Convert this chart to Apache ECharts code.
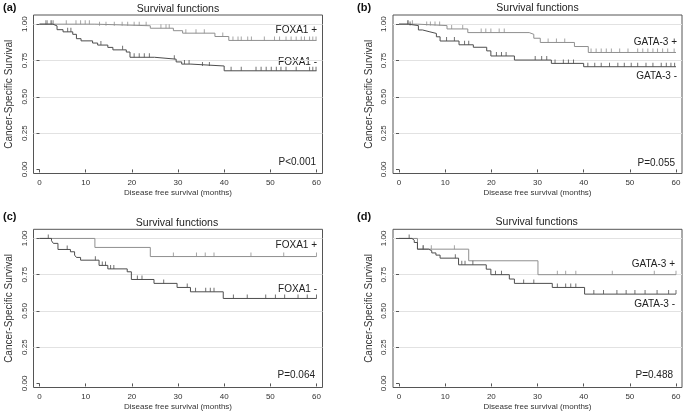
<!DOCTYPE html>
<html><head><meta charset="utf-8">
<script src="https://cdn.jsdelivr.net/npm/echarts@6/dist/echarts.min.js"></script>
<style>html,body{margin:0;padding:0;background:#fff}#c{width:685px;height:413px}</style>
</head><body><div id="c"></div>
<script>
// ---- tick labels ----
const xTicks = [0, 10, 20, 30, 40, 50, 60];
const yTicks = [0, 0.25, 0.5, 0.75, 1];
const yTickLabels = ['0.00', '0.25', '0.50', '0.75', '1.00'];

// ---- panel (a) FOXA1 ----
const aPosTime = [0, 12, 24, 29, 31, 38, 41, 60];
const aPosSurv = [1, 0.989, 0.972, 0.955, 0.938, 0.915, 0.888, 0.888];
const aPosCens = [1.7, 2.7, 3, 5.8, 7.9, 8.9, 9.9, 10.8, 13, 14.4, 16.2, 17.9, 19.1, 20.5, 21.6, 23.1, 26.3, 27.4, 28.1, 31.7, 33.9, 35.7, 39.7, 41.9, 43, 43.7, 45.1, 45.9, 48.7, 50.9, 52, 53.4, 54.5, 55.6, 56.7, 57.4, 58.5, 59.2, 59.9];
const aNegTime = [0, 2.9, 3.8, 5.1, 7.2, 8, 9, 11.5, 12.6, 14.8, 15.9, 18.8, 19.6, 24.9, 29.6, 30.8, 32.8, 40, 60];
const aNegSurv = [1, 0.988, 0.962, 0.947, 0.93, 0.9, 0.885, 0.87, 0.856, 0.84, 0.823, 0.808, 0.772, 0.759, 0.74, 0.725, 0.712, 0.679, 0.679];
const aNegCens = [1.4, 2.5, 6.1, 6.8, 13.3, 18, 20.5, 21.6, 22.7, 23.8, 29.2, 31.4, 32.4, 35.3, 36.8, 41.5, 43.7, 46.9, 48, 49.1, 50.2, 51.3, 52.3, 53.4, 55.6, 58.5, 59.2, 59.9];

// ---- panel (b) GATA-3 ----
const bPosTime = [0, 4, 10.4, 14.9, 28.2, 29.2, 30.6, 38, 41, 60];
const bPosSurv = [1, 0.99, 0.967, 0.942, 0.93, 0.903, 0.874, 0.846, 0.805, 0.805];
const bPosCens = [2, 2.9, 6, 6.8, 7.8, 8.8, 11.4, 13.8, 17.8, 18.8, 19.9, 21.7, 22.8, 32.3, 34.1, 35.9, 41.6, 42.7, 43.8, 44.9, 46, 47.8, 49.6, 51.7, 52.8, 53.9, 55, 56, 57.1, 58.2, 59.6];
const bNegTime = [0, 2, 4.2, 5.1, 6.7, 8.1, 8.9, 13, 16.1, 19, 19.9, 25, 33, 40, 60];
const bNegSurv = [1, 0.99, 0.96, 0.947, 0.936, 0.913, 0.884, 0.858, 0.841, 0.816, 0.781, 0.753, 0.73, 0.707, 0.707];
const bNegCens = [1.9, 2.4, 10.3, 12, 14.2, 15.1, 21.1, 22.2, 23.2, 29.5, 30.9, 32, 33.8, 35.6, 36.7, 37.8, 40.9, 42.4, 43.8, 45.6, 47.4, 48.8, 50.3, 51.7, 53.5, 55, 56.8, 57.9, 58.9, 59.7];

// ---- panel (c) FOXA1 ----
const cPosTime = [0, 12, 24, 60];
const cPosSurv = [1, 0.938, 0.875, 0.875];
const cPosCens = [29, 34, 35.9, 37.8, 45.8, 52.9, 60];
const cNegTime = [0, 2.6, 3, 4, 6.7, 7.6, 8, 8.9, 12.9, 14.8, 19, 19.9, 24.8, 29.8, 32.7, 39.8, 60];
const cNegSurv = [1, 0.984, 0.966, 0.924, 0.908, 0.885, 0.869, 0.85, 0.814, 0.79, 0.77, 0.717, 0.69, 0.662, 0.632, 0.586, 0.586];
const cNegCens = [1.9, 6, 12.1, 13.6, 14.3, 15.4, 16.1, 21.2, 22.2, 26.9, 32, 33.8, 36, 37, 37.8, 42, 45, 49, 51.1, 53.1, 56, 58, 60];

// ---- panel (d) GATA-3 ----
const dPosTime = [0, 4, 15.1, 30.1, 60];
const dPosSurv = [1, 0.926, 0.846, 0.75, 0.75];
const dPosCens = [5.3, 7, 12, 34.3, 36.1, 38.3, 46.2, 55.3, 60];
const dNegTime = [0, 2.8, 3.3, 4, 6.4, 7.1, 8, 8.9, 12.9, 18.9, 19.9, 23.9, 25, 33.2, 40.2, 60];
const dNegSurv = [1, 0.988, 0.972, 0.926, 0.915, 0.9, 0.885, 0.864, 0.818, 0.788, 0.75, 0.72, 0.69, 0.662, 0.616, 0.616];
const dNegCens = [2.2, 5.2, 12.2, 13.6, 14.3, 16, 20.9, 22.2, 27, 29.2, 34.3, 36.1, 37.2, 38.3, 42.2, 44.3, 47.2, 49.2, 51.1, 53.3, 55.9, 58.4, 60];

// ---- text ----
const panelTags = ['(a)', '(b)', '(c)', '(d)'];
const posLabels = ['FOXA1 +', 'GATA-3 +', 'FOXA1 +', 'GATA-3 +'];
const negLabels = ['FOXA1 -', 'GATA-3 -', 'FOXA1 -', 'GATA-3 -'];
const pLabels = ['P<0.001', 'P=0.055', 'P=0.064', 'P=0.488'];
const titleText = 'Survival functions';
const xName = 'Disease free survival (months)';
const yName = 'Cancer-Specific Survival';

const panels = [
  {pt: aPosTime, ps: aPosSurv, pc: aPosCens, nt: aNegTime, ns: aNegSurv, nc: aNegCens},
  {pt: bPosTime, ps: bPosSurv, pc: bPosCens, nt: bNegTime, ns: bNegSurv, nc: bNegCens},
  {pt: cPosTime, ps: cPosSurv, pc: cPosCens, nt: cNegTime, ns: cNegSurv, nc: cNegCens},
  {pt: dPosTime, ps: dPosSurv, pc: dPosCens, nt: dNegTime, ns: dNegSurv, nc: dNegCens}
];

// ---- layout ----
const layout = [
  {left: 33.5, top: 15, width: 289, height: 158.5, posY: 30.7, negY: 61.8, pY: 162.7, txtR: 317, pR: 316, titleX: 178, titleY: 9, tagX: 3, tagY: 7.5},
  {left: 393, top: 15, width: 289, height: 158.5, posY: 42.7, negY: 76, pY: 163.3, txtR: 677, pR: 675, titleX: 537.5, titleY: 8.5, tagX: 357, tagY: 7.7},
  {left: 33.5, top: 229.3, width: 289, height: 158.2, posY: 245, negY: 289.3, pY: 375.7, txtR: 317, pR: 315, titleX: 177, titleY: 222.7, tagX: 3, tagY: 216.7},
  {left: 393, top: 229.3, width: 289, height: 158.2, posY: 264.3, negY: 304.3, pY: 375.7, txtR: 675, pR: 673, titleX: 536.7, titleY: 222.3, tagX: 357, tagY: 217}
];
const X_MIN = -1.3, X_MAX = 61.3, Y_MIN = -0.028, Y_MAX = 1.063;
const LIGHT = '#8f8f8f', DARK = '#4d4d4d', FONT = 'Liberation Sans, Arial, sans-serif';

function stepData(t, s) { return t.map((v, i) => [v, s[i]]); }
function survAt(t, s, x) { let v = s[0]; for (let i = 0; i < t.length; i++) { if (t[i] <= x) v = s[i]; } return v; }
function censData(t, s, c) { return c.map(x => [x, survAt(t, s, x)]); }

const grids = [], xAxes = [], yAxes = [], series = [], graphics = [];
layout.forEach((L, i) => {
  grids.push({left: L.left, top: L.top, width: L.width, height: L.height, show: true, borderColor: '#555', borderWidth: 1, backgroundColor: 'transparent'});
  xAxes.push({
    type: 'value', gridIndex: i, min: X_MIN, max: X_MAX,
    axisLine: {show: false},
    axisTick: {show: true, length: 3, lineStyle: {color: '#555'}, customValues: xTicks},
    axisLabel: {show: true, customValues: xTicks, fontSize: 8, color: '#333', margin: 5, fontFamily: FONT},
    splitLine: {show: false},
    name: xName, nameLocation: 'middle', nameGap: 15,
    nameTextStyle: {fontSize: 8, color: '#333', fontFamily: FONT}
  });
  yAxes.push({
    type: 'value', gridIndex: i, min: Y_MIN, max: Y_MAX,
    axisLine: {show: false},
    axisTick: {show: true, length: 3, lineStyle: {color: '#555'}, customValues: yTicks},
    axisLabel: {show: true, customValues: yTicks, rotate: 90, fontSize: 8, color: '#333', margin: 5, fontFamily: FONT,
      formatter: v => { const k = yTicks.findIndex(t => Math.abs(t - v) < 1e-9); return k >= 0 ? yTickLabels[k] : ''; }},
    splitLine: {show: true, lineStyle: {color: ['transparent', '#e2e2e2', '#e2e2e2', '#e2e2e2', '#e2e2e2'], width: 1}},
    name: yName, nameLocation: 'middle', nameGap: 19, nameRotate: 90,
    nameTextStyle: {fontSize: 10, color: '#333', fontFamily: FONT}
  });
  const P = panels[i];
  series.push({type: 'line', xAxisIndex: i, yAxisIndex: i, step: 'end', showSymbol: false, silent: true, z: 3,
    data: stepData(P.pt, P.ps), lineStyle: {color: LIGHT, width: 1}, itemStyle: {color: LIGHT}});
  series.push({type: 'line', xAxisIndex: i, yAxisIndex: i, step: 'end', showSymbol: false, silent: true, z: 4,
    data: stepData(P.nt, P.ns), lineStyle: {color: DARK, width: 1}, itemStyle: {color: DARK}});
  series.push({type: 'scatter', xAxisIndex: i, yAxisIndex: i, silent: true, z: 3, symbol: 'rect', symbolSize: [1, 4], symbolOffset: [0, -2],
    data: censData(P.pt, P.ps, P.pc), itemStyle: {color: LIGHT}});
  series.push({type: 'scatter', xAxisIndex: i, yAxisIndex: i, silent: true, z: 4, symbol: 'rect', symbolSize: [1, 4], symbolOffset: [0, -2],
    data: censData(P.nt, P.ns, P.nc), itemStyle: {color: DARK}});

  graphics.push({type: 'text', style: {text: titleText, x: L.titleX, y: L.titleY, align: 'center', verticalAlign: 'middle', fontSize: 10.5, fill: '#222', fontFamily: FONT}});
  graphics.push({type: 'text', style: {text: panelTags[i], x: L.tagX, y: L.tagY, align: 'left', verticalAlign: 'middle', fontSize: 11, fontWeight: 'bold', fill: '#111', fontFamily: FONT}});
  graphics.push({type: 'text', style: {text: posLabels[i], x: L.txtR, y: L.posY, align: 'right', verticalAlign: 'middle', fontSize: 10, fill: '#222', fontFamily: FONT}});
  graphics.push({type: 'text', style: {text: negLabels[i], x: L.txtR, y: L.negY, align: 'right', verticalAlign: 'middle', fontSize: 10, fill: '#222', fontFamily: FONT}});
  graphics.push({type: 'text', style: {text: pLabels[i], x: L.pR, y: L.pY, align: 'right', verticalAlign: 'middle', fontSize: 10, fill: '#222', fontFamily: FONT}});
});

const chart = echarts.init(document.getElementById('c'), null, {renderer: 'canvas'});
chart.setOption({
  animation: false,
  backgroundColor: '#fff',
  grid: grids, xAxis: xAxes, yAxis: yAxes, series: series,
  graphic: {elements: graphics}
});
</script>
</body></html>
